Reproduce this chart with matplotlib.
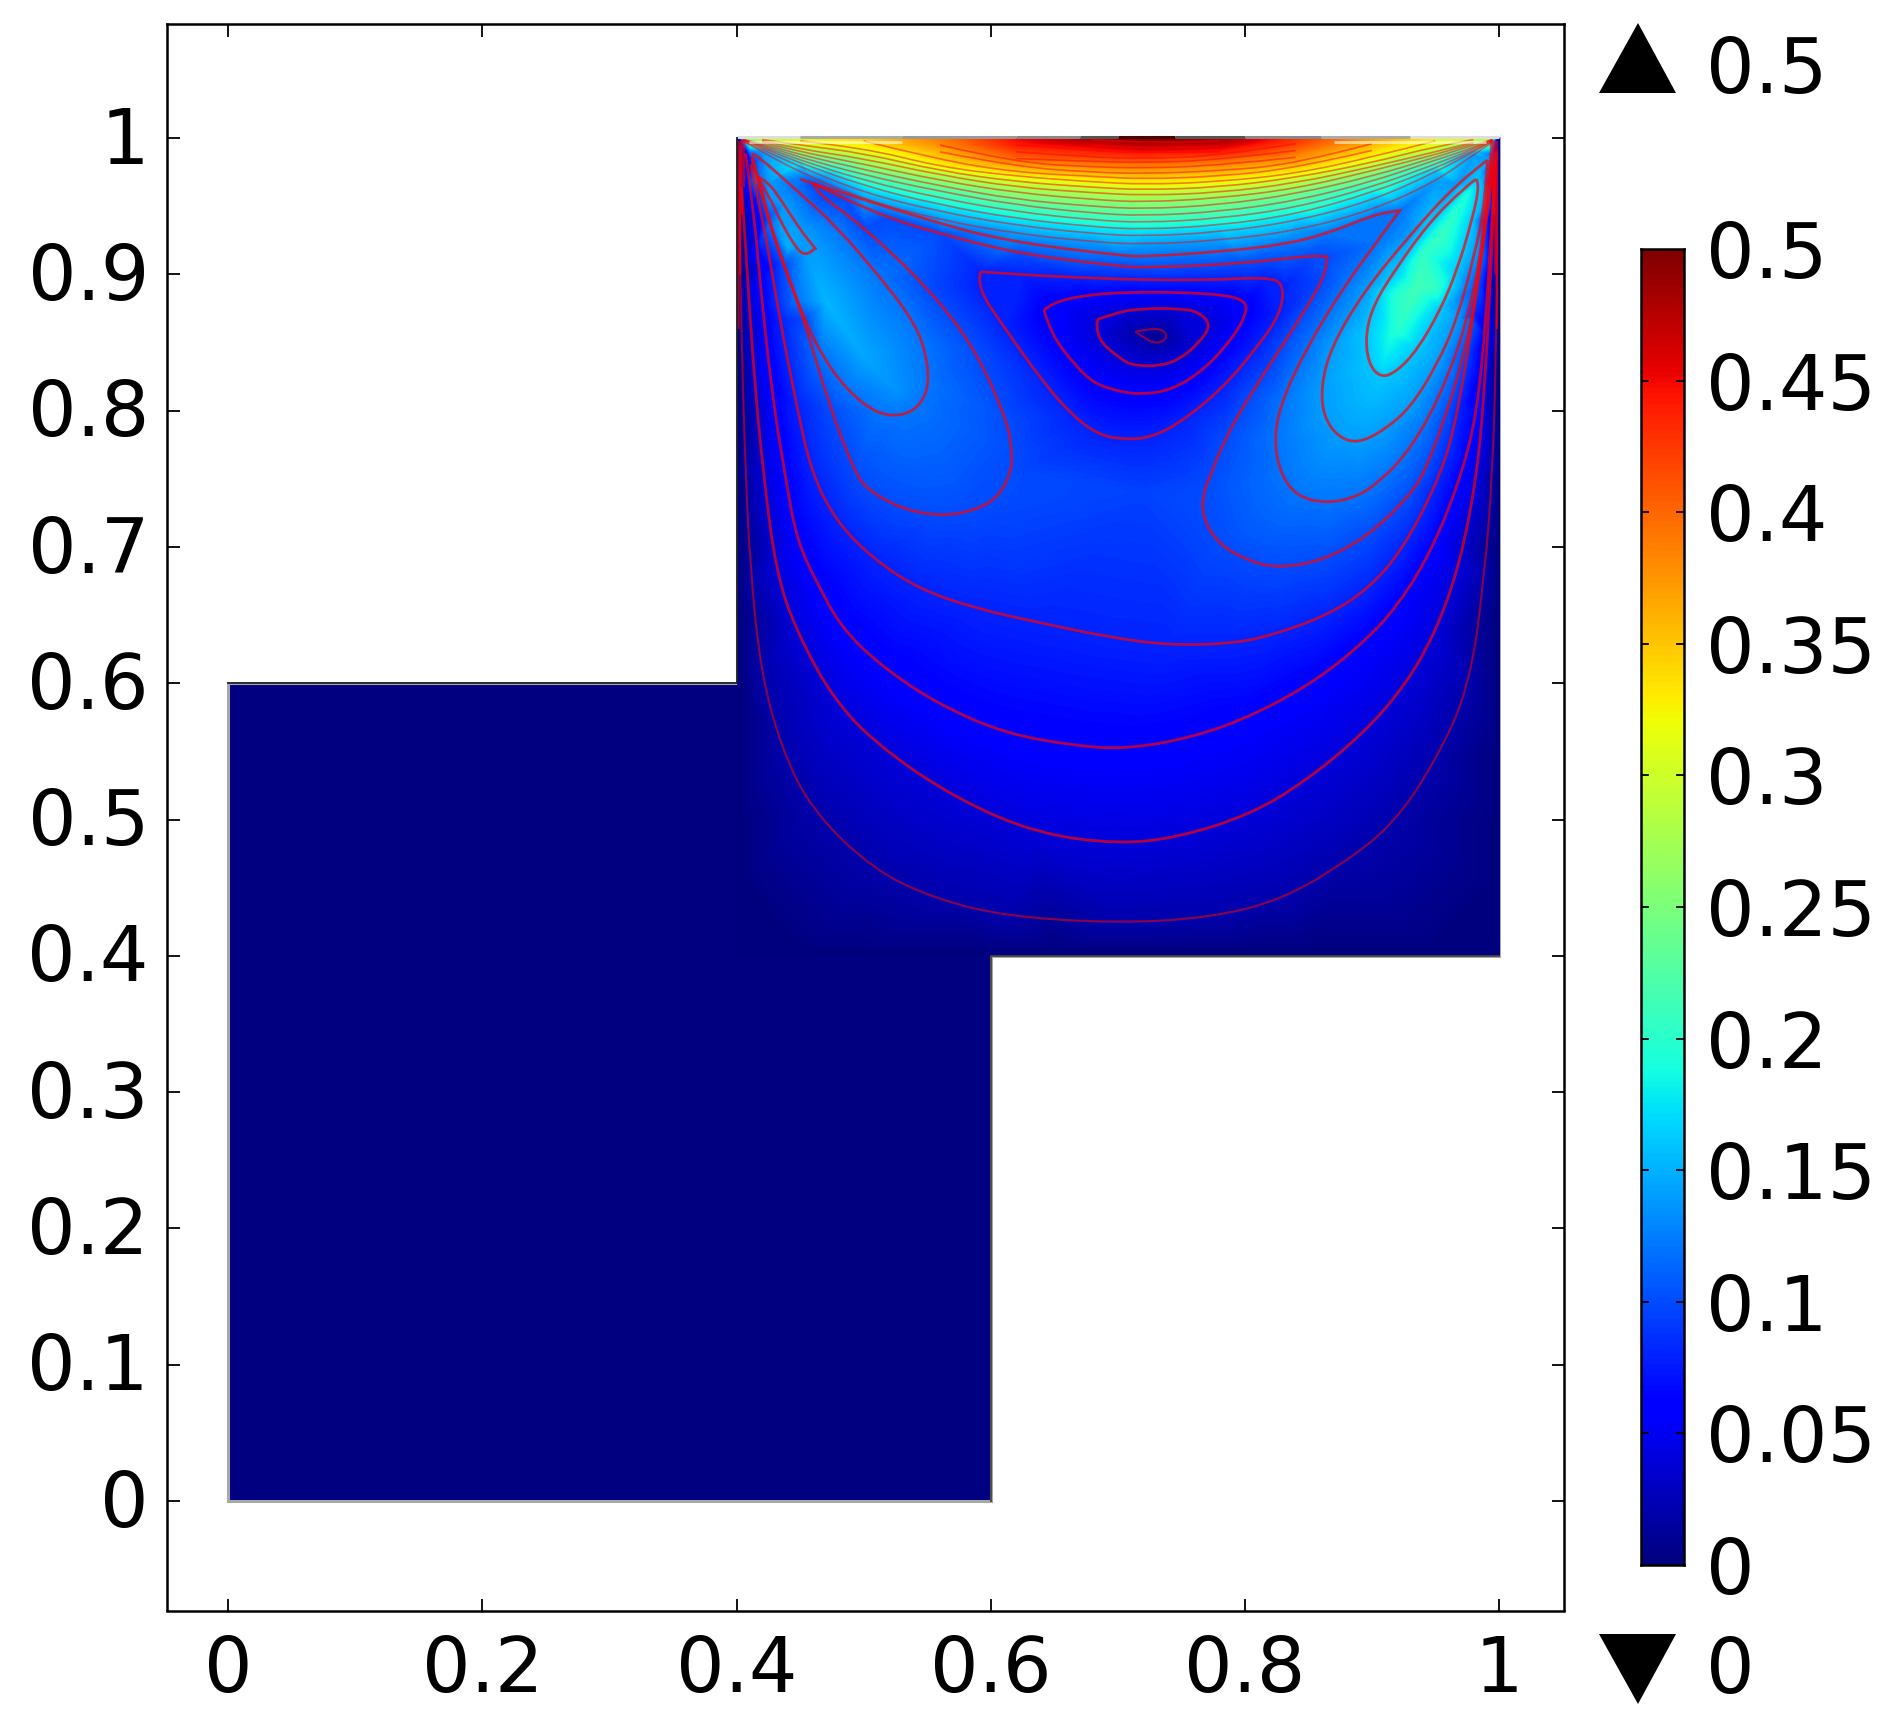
import numpy as np
import matplotlib
matplotlib.use('Agg')
import matplotlib.pyplot as plt
from matplotlib.patches import Polygon, PathPatch
from matplotlib.path import Path
from matplotlib.transforms import ScaledTranslation
from matplotlib.tri import Triangulation, LinearTriInterpolator

x_ticks = [0, 0.2, 0.4, 0.6, 0.8, 1]
x_labels = ['0', '0.2', '0.4', '0.6', '0.8', '1']
y_ticks = [0, 0.1, 0.2, 0.3, 0.4, 0.5, 0.6, 0.7, 0.8, 0.9, 1]
y_labels = ['0', '0.1', '0.2', '0.3', '0.4', '0.5', '0.6', '0.7', '0.8', '0.9', '1']
bar_ticks = [0, 0.05, 0.1, 0.15, 0.2, 0.25, 0.3, 0.35, 0.4, 0.45, 0.5]
bar_labels = ['0', '0.05', '0.1', '0.15', '0.2', '0.25', '0.3', '0.35', '0.4', '0.45', '0.5']

domain = [(0, 0), (0.6, 0), (0.6, 0.4), (1, 0.4), (1, 1), (0.4, 1), (0.4, 0.6), (0, 0.6)]

# contours, (x, y) per level
line_02 = [(.403, .992), (.402, .95), (.404, .85), (.407, .754), (.411, .682), (.419, .609), (.435, .553),
           (.459, .507), (.508, .463), (.556, .442), (.612, .429), (.700, .424), (.772, .428), (.829, .441),
           (.881, .470), (.917, .497), (.949, .541), (.977, .597), (.989, .682), (.995, .754), (.998, .85),
           (.9985, .95), (.998, .992)]
line_04 = [(.404, .964), (.409, .891), (.4145, .818), (.421, .754), (.431, .682), (.447, .638), (.479, .584),
           (.520, .548), (.576, .514), (.636, .490), (.700, .482), (.748, .487), (.805, .504), (.849, .529),
           (.893, .563), (.925, .597), (.949, .635), (.969, .686), (.983, .754), (.989, .82), (.993, .89),
           (.997, .97)]
line_06 = [(.407, .989), (.413, .952), (.420, .879), (.429, .805), (.438, .754), (.447, .706), (.463, .674),
           (.483, .640), (.516, .611), (.560, .584), (.612, .563), (.668, .554), (.704, .552), (.748, .558),
           (.796, .572), (.848, .597), (.889, .626), (.921, .657), (.949, .701), (.971, .754), (.983, .80),
           (.990, .87), (.995, .95), (.998, .99)]
line_08 = [(.411, .981), (.421, .940), (.434, .867), (.447, .805), (.459, .754), (.479, .718), (.508, .691),
           (.544, .669), (.588, .655), (.636, .645), (.692, .634), (.740, .628), (.788, .629), (.821, .635),
           (.865, .650), (.897, .669), (.925, .699), (.955, .754), (.968, .80), (.980, .87), (.990, .94),
           (.997, .985)]
line_10 = [(.412, .985), (.424, .942), (.437, .908), (.453, .867), (.474, .801), (.4935, .754), (.5035, .742),
           (.5276, .729), (.556, .723), (.580, .725), (.604, .734), (.616, .754), (.617, .769), (.613, .793),
           (.587, .847), (.550, .891), (.500, .935), (.466, .958), (.460, .967), (.460, .967), (.484, .956),
           (.521, .941), (.560, .930), (.623, .915), (.702, .906), (.721, .905), (.799, .908), (.852, .914),
           (.865, .913), (.865, .913), (.862, .896), (.836, .857), (.805, .813), (.784, .779), (.772, .750),
           (.768, .742), (.766, .723), (.780, .701), (.808, .688), (.829, .685), (.861, .690), (.897, .708),
           (.929, .737), (.941, .754), (.957, .793), (.973, .842), (.983, .891), (.990, .940), (.994, .981)]
line_12 = [(.450, .970), (.558, .937), (.623, .923), (.702, .914), (.721, .913), (.784, .917), (.831, .922),
           (.865, .930), (.902, .944), (.922, .947), (.922, .947), (.904, .924), (.878, .891), (.849, .847),
           (.828, .805), (.823, .778), (.828, .754), (.841, .737), (.865, .732), (.889, .737), (.907, .749),
           (.925, .766), (.944, .793), (.962, .830), (.975, .867), (.986, .915), (.991, .964), (.994, .989)]
lobe_12 = [(.417, .972), (.426, .937), (.447, .881), (.466, .842), (.487, .815), (.510, .798), (.529, .796),
           (.544, .803), (.552, .820), (.548, .847), (.537, .869), (.513, .898), (.479, .935), (.447, .962),
           (.418, .986), (.410, .990), (.417, .972)]
lobe_14 = [(.416, .972), (.424, .969), (.437, .952), (.450, .933), (.462, .919), (.462, .919), (.454, .914),
           (.447, .919), (.434, .940), (.426, .957), (.416, .972)]
right_14 = [(.991, .984), (.967, .967), (.931, .930), (.894, .888), (.868, .847), (.860, .818), (.862, .796),
            (.873, .781), (.889, .776), (.910, .786), (.931, .803), (.952, .835), (.967, .867), (.981, .915),
            (.989, .952), (.991, .984)]
right_16 = [(.982, .970), (.973, .964), (.944, .937), (.918, .903), (.902, .879), (.895, .857), (.897, .835),
            (.907, .824), (.920, .829), (.936, .845), (.954, .874), (.967, .903), (.979, .940), (.985, .967),
            (.982, .970)]
core_08 = [(.592, .902), (.589, .891), (.610, .862), (.642, .820), (.665, .796), (.684, .783), (.702, .779),
           (.726, .780), (.752, .793), (.784, .818), (.810, .847), (.828, .871), (.831, .893), (.818, .898),
           (.773, .896), (.721, .896), (.663, .898), (.623, .900), (.592, .902)]
core_06 = [(.642, .874), (.647, .857), (.665, .835), (.681, .820), (.702, .814), (.718, .812), (.742, .815),
           (.768, .830), (.791, .854), (.801, .871), (.801, .880), (.786, .885), (.747, .887), (.707, .887),
           (.676, .885), (.650, .880), (.642, .874)]
core_04 = [(.684, .867), (.682, .854), (.702, .838), (.713, .833), (.734, .833), (.749, .838), (.763, .849),
           (.774, .863), (.763, .873), (.747, .875), (.721, .875), (.702, .873), (.684, .867)]
core_02 = [(.714, .858), (.721, .853), (.731, .849), (.739, .853), (.736, .860), (.723, .860), (.714, .858)]

contours = [(0.02, line_02), (0.04, line_04), (0.06, line_06), (0.08, line_08), (0.10, line_10), (0.12, line_12),
            (0.12, lobe_12), (0.14, lobe_14), (0.14, right_14), (0.16, right_16), (0.08, core_08),
            (0.06, core_06), (0.04, core_04), (0.02, core_02)]

# the stack of lines under the lid, all read at the same x positions
band_x = [.405, .42, .45, .50, .56, .62, .68, .72, .78, .84, .90, .95, .98, .995]
band_levels = [.14, .16, .18, .20, .22, .24, .26, .28, .30, .32, .34, .36, .38, .40, .42, .44, .46, .48]
band_y = [
    [.998, .990, .975, .955, .940, .930, .924, .922, .925, .932, .947, .968, .988, .997],
    [.998, .992, .979, .960, .946, .936, .930, .928, .931, .939, .954, .975, .990, .998],
    [.999, .993, .982, .965, .951, .941, .935, .933, .936, .944, .960, .978, .991, .998],
    [.999, .994, .984, .969, .956, .946, .940, .938, .941, .949, .964, .981, .992, .999],
    [.999, .995, .986, .973, .961, .951, .945, .943, .946, .954, .968, .984, .993, .999],
    [.999, .996, .988, .977, .965, .955, .950, .948, .951, .959, .972, .986, .995, .999],
    [1.00, .997, .990, .981, .969, .960, .955, .953, .956, .963, .976, .988, .996, 1.00],
    [1.00, .998, .992, .985, .973, .964, .960, .958, .960, .967, .979, .990, .997, 1.00],
    [1.00, .999, .995, .989, .976, .968, .964, .962, .964, .971, .982, .994, .999, 1.00],
    [1.00, 1.00, .998, .993, .979, .972, .968, .966, .968, .974, .986, .998, 1.00, 1.00],
    [1.00, 1.00, 1.00, .998, .984, .975, .972, .970, .972, .978, .991, 1.00, 1.00, 1.00],
    [1.00, 1.00, 1.00, 1.00, .990, .979, .975, .974, .976, .981, .996, 1.00, 1.00, 1.00],
    [1.00, 1.00, 1.00, 1.00, .995, .982, .979, .978, .980, .986, 1.00, 1.00, 1.00, 1.00],
    [1.00, 1.00, 1.00, 1.00, 1.00, .985, .983, .982, .984, .991, 1.00, 1.00, 1.00, 1.00],
    [1.00, 1.00, 1.00, 1.00, 1.00, .990, .986, .985, .987, .996, 1.00, 1.00, 1.00, 1.00],
    [1.00, 1.00, 1.00, 1.00, 1.00, .995, .991, .989, .990, 1.00, 1.00, 1.00, 1.00, 1.00],
    [1.00, 1.00, 1.00, 1.00, 1.00, 1.00, .995, .992, .994, 1.00, 1.00, 1.00, 1.00, 1.00],
    [1.00, 1.00, 1.00, 1.00, 1.00, 1.00, .999, .996, .998, 1.00, 1.00, 1.00, 1.00, 1.00],
]

# values along the lid and at the ridges and hollows of the field
lid_x = [.40, .405, .41, .45, .50, .56, .62, .68, .72, .78, .84, .90, .95, .99, .995, 1.0]
lid_v = [.0, .27, .28, .30, .33, .39, .45, .49, .50, .48, .43, .37, .32, .29, .27, .0]
extreme_x = [.728, .72, .44, .47, .50, .525, .975, .955, .935, .92, .908, .94, .95, .92, .915]
extreme_y = [.855, .74, .92, .88, .84, .815, .96, .93, .89, .86, .835, .915, .89, .885, .855]
extreme_v = [.006, .095, .15, .152, .145, .135, .19, .21, .215, .20, .175, .205, .205, .20, .19]
wall_y = [.40, .45, .50, .55, .60, .65, .70, .75, .80, .85, .90, .95, .99]
floor_x = [.40, .45, .50, .55, .60, .65, .70, .75, .80, .85, .90, .95, 1.0]

# dense lines hugging the two walls below the lid corners
wall_lines = [[(.4015, .998), (.4015, .93), (.4015, .86)], [(.4030, .998), (.4030, .94), (.4028, .90)],
              [(.9985, .998), (.9985, .93), (.9985, .86)], [(.9970, .998), (.9970, .94), (.9972, .90)],
              [(.4045, .998), (.4045, .945)], [(.9955, .998), (.9955, .945)],
              [(.4060, .998), (.4060, .965)], [(.9940, .998), (.9940, .965)]]

lid_edges = [.40, .45, .53, .62, .67, .70, .745, .80, .86, .93, 1.0]
lid_shades = ['#dddddd', '#aaaaaa', '#999999', '#888888', '#555555', '#440808', '#555555', '#888888', '#aaaaaa', '#dddddd']
pale_x = [(.41, .53), (.87, .99)]
pale_y = [.9975, .9975]


def add_curve(ax, line, lw=1.8, alpha=0.6):
    # quadratic segments through the read points, drawn by the path itself
    c = np.asarray(line, dtype=float)
    if len(c) < 3:
        ax.plot(c[:, 0], c[:, 1], color='red', alpha=alpha, lw=lw, zorder=3)
        return
    mids = (c[1:] + c[:-1]) / 2
    verts, codes = [c[0]], [Path.MOVETO]
    for i in range(1, len(c) - 1):
        verts += [c[i], mids[i] if i < len(c) - 2 else c[-1]]
        codes += [Path.CURVE3, Path.CURVE3]
    ax.add_patch(PathPatch(Path(verts, codes), facecolor='none', edgecolor='red', alpha=alpha, lw=lw, zorder=3))


plt.rcParams['font.family'] = 'DejaVu Sans'
W, H = 1886, 1728
fig = plt.figure(figsize=(W / 100, H / 100), dpi=100)
ax = fig.add_axes([167 / W, (H - 1610.5) / H, 1396.7 / W, 1586.5 / H])
cax = fig.add_axes([1641 / W, (H - 1565) / H, 43 / W, 1316 / H])

px, py, pv = [], [], []
for level, line in contours:
    for a, b in line:
        px.append(a), py.append(b), pv.append(level)
for level, row in zip(band_levels, band_y):
    for a, b in zip(band_x, row):
        if b < 1:
            px.append(a), py.append(b), pv.append(level)
px += lid_x + extreme_x + [.40] * len(wall_y) + [1.0] * len(wall_y) + floor_x
py += [1.0] * len(lid_x) + extreme_y + wall_y + wall_y + [.40] * len(floor_x)
pv += lid_v + extreme_v + [0] * (2 * len(wall_y) + len(floor_x))

pts = np.column_stack([px, py])
pts, idx = np.unique(pts, axis=0, return_index=True)
tri = Triangulation(pts[:, 0], pts[:, 1])
field = LinearTriInterpolator(tri, np.array(pv, dtype=float)[idx])
gx, gy = np.meshgrid(np.linspace(.4, 1, 900), np.linspace(.4, 1, 900))

ax.add_patch(Polygon(domain, closed=True, facecolor='#000080', edgecolor='#a8a8a8', lw=2.2, zorder=1))
ax.imshow(field(gx, gy), extent=(.4, 1, .4, 1), origin='lower', cmap='jet', vmin=0, vmax=0.5,
          interpolation='bilinear', aspect='auto', zorder=2)

for level, line in contours:
    add_curve(ax, line, lw=1.5 if level == 0.02 else 2.0, alpha=0.55 if level == 0.02 else 0.7)
for row in band_y:
    r = np.array(row)
    keep = r < 1
    add_curve(ax, np.column_stack([np.array(band_x)[keep], r[keep]]), lw=1.2, alpha=0.5)
for line in wall_lines:
    add_curve(ax, line, lw=1.6, alpha=0.6)

for seg, y in zip(pale_x, pale_y):
    ax.plot(seg, [y, y], color='white', alpha=0.6, lw=2, solid_capstyle='butt', zorder=4)
for i, shade in enumerate(lid_shades):
    ax.plot(lid_edges[i:i + 2], [1.001, 1.001], color=shade, lw=2.2, solid_capstyle='butt', zorder=4)
ax.plot([.4, .4, 0], [1, .6, .6], color='#222222', lw=1.3, zorder=4)
ax.plot([.6, .6, 1], [0, .4, .4], color='#444444', lw=1.3, zorder=4)

ax.set_xlim(-0.0483, 1.051)
ax.set_ylim(-0.0803, 1.0838)
ax.set_xticks(x_ticks, x_labels)
ax.set_yticks(y_ticks, y_labels)
ax.tick_params(axis='both', direction='in', top=True, right=True, length=9, width=1.3, labelsize=55)
ax.tick_params(axis='x', pad=17)
ax.tick_params(axis='y', pad=13)
lift = ScaledTranslation(0, 2.5 / 72, fig.dpi_scale_trans)
for t in ax.get_yticklabels():
    t.set_transform(t.get_transform() + lift)
for s in ax.spines.values():
    s.set_linewidth(1.8)

grad = np.linspace(0, 0.5, 512).reshape(-1, 1)
cax.imshow(grad, extent=(0, 1, 0, 0.5), origin='lower', cmap='jet', vmin=0, vmax=0.5, aspect='auto')
cax.set_xticks([])
cax.set_yticks(bar_ticks, bar_labels)
cax.tick_params(axis='y', direction='inout', left=False, right=False, labelright=True, labelleft=False,
                labelsize=55, pad=14)
for t in bar_ticks[1:-1]:
    cax.plot([0, .16], [t, t], color='k', lw=1.3)
    cax.plot([.84, 1], [t, t], color='k', lw=1.3)
cax.set_xlim(0, 1)
cax.set_ylim(0, 0.5)
for s in cax.spines.values():
    s.set_linewidth(1.8)

up = [(1599 / W, 1 - 93 / H), (1676 / W, 1 - 93 / H), (1638 / W, 1 - 23 / H)]
down = [(1599 / W, 1 - 1634 / H), (1676 / W, 1 - 1634 / H), (1638 / W, 1 - 1704 / H)]
fig.add_artist(Polygon(up, closed=True, facecolor='k', edgecolor='none', transform=fig.transFigure))
fig.add_artist(Polygon(down, closed=True, facecolor='k', edgecolor='none', transform=fig.transFigure))
fig.text(1706 / W, 1 - 72 / H, '0.5', fontsize=55, va='center', ha='left')
fig.text(1706 / W, 1 - 1672 / H, '0', fontsize=55, va='center', ha='left')

fig.savefig('out.png', dpi=100)
